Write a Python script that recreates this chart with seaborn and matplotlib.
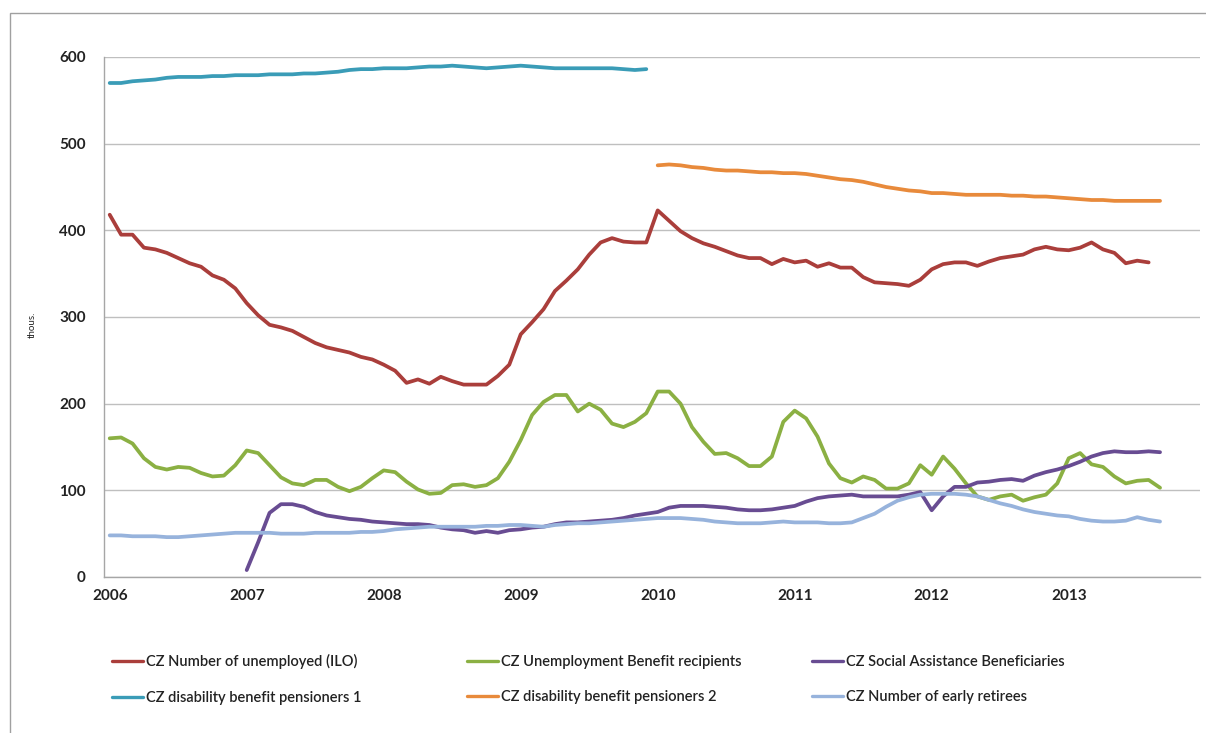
import numpy as np
import pandas as pd
import seaborn as sns
import matplotlib.pyplot as plt
from matplotlib.lines import Line2D
from matplotlib.patches import Rectangle

# monthly values, thousands; month 0 = Jan 2006
years = ["2006", "2007", "2008", "2009", "2010", "2011", "2012", "2013"]

unemployed_ilo = [418, 395, 395, 380, 378, 374, 368, 362, 358, 348, 343, 333,
                  316, 302, 291, 288, 284, 277, 270, 265, 262, 259, 254, 251,
                  245, 238, 224, 228, 223, 231, 226, 222, 222, 222, 232, 245,
                  280, 294, 309, 330, 342, 355, 372, 386, 391, 387, 386, 386,
                  423, 411, 399, 391, 385, 381, 376, 371, 368, 368, 361, 367,
                  363, 365, 358, 362, 357, 357, 346, 340, 339, 338, 336, 343,
                  355, 361, 363, 363, 359, 364, 368, 370, 372, 378, 381, 378,
                  377, 380, 386, 378, 374, 362, 365, 363]
unemployed_start = 0

benefit_recipients = [160, 161, 154, 137, 127, 124, 127, 126, 120, 116, 117, 129,
                      146, 143, 129, 115, 108, 106, 112, 112, 104, 99, 104, 114,
                      123, 121, 110, 101, 96, 97, 106, 107, 104, 106, 114, 133,
                      158, 187, 202, 210, 210, 191, 200, 193, 177, 173, 179, 189,
                      214, 214, 200, 173, 156, 142, 143, 137, 128, 128, 139, 179,
                      192, 183, 162, 131, 114, 109, 116, 112, 102, 102, 108, 129,
                      118, 139, 125, 108, 93, 89, 93, 95, 88, 92, 95, 108,
                      137, 143, 130, 127, 116, 108, 111, 112, 103]
benefit_start = 0

social_assistance = [8, 40, 74, 84, 84, 81, 75, 71, 69, 67, 66, 64,
                     63, 62, 61, 61, 60, 57, 55, 54, 51, 53, 51, 54,
                     55, 57, 58, 61, 63, 63, 64, 65, 66, 68, 71, 73,
                     75, 80, 82, 82, 82, 81, 80, 78, 77, 77, 78, 80,
                     82, 87, 91, 93, 94, 95, 93, 93, 93, 93, 95, 98,
                     77, 93, 104, 104, 109, 110, 112, 113, 111, 117, 121, 124,
                     128, 133, 139, 143, 145, 144, 144, 145, 144]
social_start = 12

disability_1 = [570, 570, 572, 573, 574, 576, 577, 577, 577, 578, 578, 579,
                579, 579, 580, 580, 580, 581, 581, 582, 583, 585, 586, 586,
                587, 587, 587, 588, 589, 589, 590, 589, 588, 587, 588, 589,
                590, 589, 588, 587, 587, 587, 587, 587, 587, 586, 585, 586]
disability_1_start = 0

disability_2 = [475, 476, 475, 473, 472, 470, 469, 469, 468, 467, 467, 466,
                466, 465, 463, 461, 459, 458, 456, 453, 450, 448, 446, 445,
                443, 443, 442, 441, 441, 441, 441, 440, 440, 439, 439, 438,
                437, 436, 435, 435, 434, 434, 434, 434, 434]
disability_2_start = 48

early_retirees = [48, 48, 47, 47, 47, 46, 46, 47, 48, 49, 50, 51,
                  51, 51, 51, 50, 50, 50, 51, 51, 51, 51, 52, 52,
                  53, 55, 56, 57, 58, 58, 58, 58, 58, 59, 59, 60,
                  60, 59, 58, 60, 61, 62, 62, 63, 64, 65, 66, 67,
                  68, 68, 68, 67, 66, 64, 63, 62, 62, 62, 63, 64,
                  63, 63, 63, 62, 62, 63, 68, 73, 81, 88, 92, 95,
                  96, 96, 96, 95, 93, 89, 85, 82, 78, 75, 73, 71,
                  70, 67, 65, 64, 64, 65, 69, 66, 64]
early_start = 0

names = ["CZ Number of unemployed (ILO)", "CZ Unemployment Benefit recipients",
         "CZ Social Assistance Beneficiaries", "CZ disability benefit pensioners 1",
         "CZ disability benefit pensioners 2", "CZ Number of early retirees"]
colors = ["#AA3E3B", "#8BB043", "#684C92", "#3A9CB7", "#E88A3B", "#97B3DC"]

series = [(unemployed_ilo, unemployed_start), (benefit_recipients, benefit_start),
          (social_assistance, social_start), (disability_1, disability_1_start),
          (disability_2, disability_2_start), (early_retirees, early_start)]

frames = []
for name, (vals, start) in zip(names, series):
    frames.append(pd.DataFrame({"month": np.arange(start, start + len(vals)),
                                "value": vals, "series": name}))
df = pd.concat(frames, ignore_index=True)

sns.set_style("white")
plt.rcParams["font.family"] = ["Lato", "DejaVu Sans"]
plt.rcParams["lines.solid_joinstyle"] = "round"
plt.rcParams["lines.solid_capstyle"] = "round"

fig = plt.figure(figsize=(12.06, 7.33), dpi=100)
ax = fig.add_axes([104 / 1206, 1 - 577 / 733, (1200 - 104) / 1206, 520 / 733])

sns.lineplot(data=df, x="month", y="value", hue="series", hue_order=names,
             palette=colors, linewidth=2.7, legend=False, ax=ax)

ax.set_xlim(-0.5, 95.5)
ax.set_ylim(0, 600)
ax.set_yticks([0, 100, 200, 300, 400, 500, 600])
ax.set_xticks(np.arange(0, 96, 12))
ax.set_xticklabels(years)
ax.set_xticks(np.arange(-0.5, 96, 1), minor=True)
ax.tick_params(axis="x", which="major", length=0, pad=9, labelsize=11, labelcolor="#222222")
ax.tick_params(axis="x", which="minor", length=4, width=0.8, color="#A6A6A6", direction="out")
ax.tick_params(axis="y", length=4, width=0.8, color="#A6A6A6", pad=9, labelsize=11, labelcolor="#222222")
for lab in ax.get_xticklabels() + ax.get_yticklabels():
    lab.set_fontweight("bold")

ax.yaxis.grid(True, color="#BFBFBF", linewidth=1)
ax.set_axisbelow(True)
sns.despine(ax=ax)
for s in ["left", "bottom"]:
    ax.spines[s].set_color("#A6A6A6")
    ax.spines[s].set_linewidth(1)
ax.set_xlabel("")
ax.set_ylabel("thous.", fontsize=7, color="#222222")
ax.yaxis.set_label_coords((37 - 104) / 1096, (577 - 325) / 520)

# legend: three columns of two rows each
handles = [Line2D([0], [0], color=c, linewidth=2.4) for c in colors]
leg_font = {"family": ["Lato", "DejaVu Sans"], "size": 10.5, "weight": "semibold"}
col_x = [112 / 1206, 467 / 1206, 812 / 1206]
for k in range(3):
    leg = fig.legend([handles[k], handles[k + 3]], [names[k], names[k + 3]],
                     loc="center left", bbox_to_anchor=(col_x[k], 1 - 679.5 / 733),
                     frameon=False, prop=leg_font, handlelength=2.1,
                     handletextpad=0.2, labelspacing=1.45, borderpad=0,
                     borderaxespad=0)
    for t in leg.get_texts():
        t.set_color("#222222")

# outer frame of the picture
fig.patches.append(Rectangle((10 / 1206, -0.1), 1.2, 0.1 + 1 - 13 / 733,
                             transform=fig.transFigure, fill=False,
                             edgecolor="#A0A0A0", linewidth=1))

fig.savefig("out.png", dpi=100)
